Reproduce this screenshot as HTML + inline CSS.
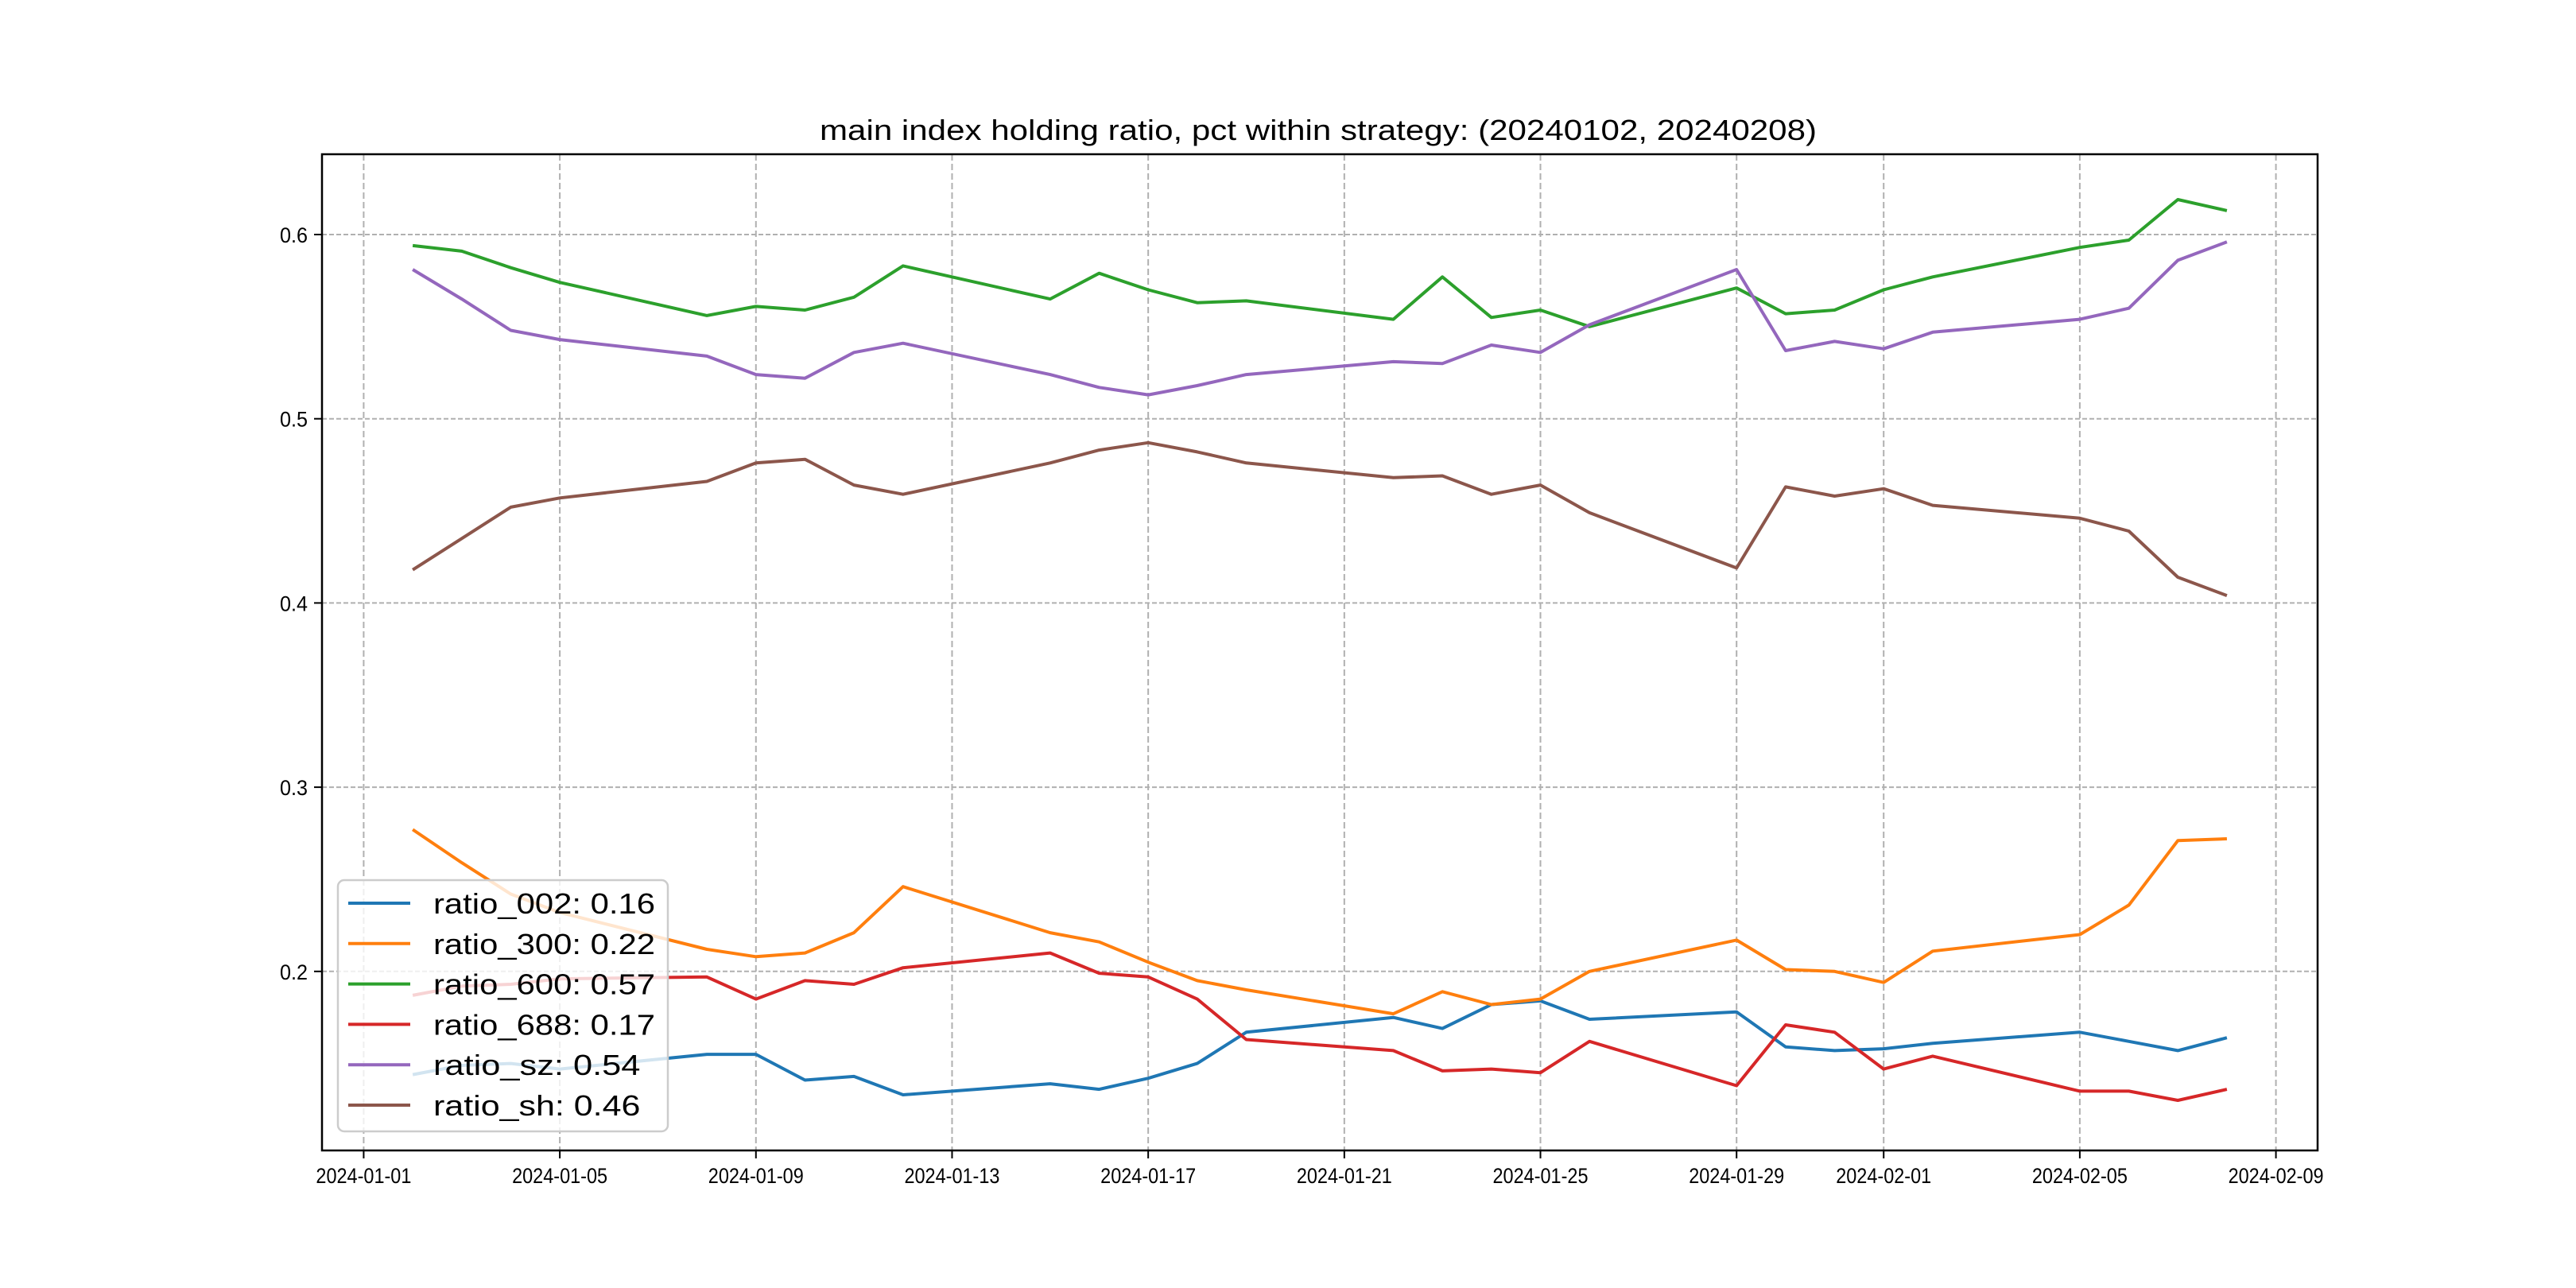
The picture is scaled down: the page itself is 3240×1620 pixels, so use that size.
<!DOCTYPE html>
<html><head><meta charset="utf-8"><style>
html,body{margin:0;padding:0;background:#fff;}
svg{display:block;}
text{font-family:"Liberation Sans","WenQuanYi Zen Hei",sans-serif;fill:#000;}
</style></head><body>
<svg id="chart" width="3240" height="1620" viewBox="0 0 3240 1620" xmlns="http://www.w3.org/2000/svg">
<rect width="3240" height="1620" fill="#fff"/>
<g id="grid"></g>
<g id="series"></g>
<g id="axes"></g>
<text x="1658" y="176" font-size="36" text-anchor="middle" textLength="1254" lengthAdjust="spacingAndGlyphs">main index holding ratio, pct within strategy: (20240102, 20240208)</text>
<g id="legend"></g>
</svg>
<script>
const dates = ["2024-01-02","2024-01-03","2024-01-04","2024-01-05","2024-01-08","2024-01-09","2024-01-10","2024-01-11","2024-01-12","2024-01-15","2024-01-16","2024-01-17","2024-01-18","2024-01-19","2024-01-22","2024-01-23","2024-01-24","2024-01-25","2024-01-26","2024-01-29","2024-01-30","2024-01-31","2024-02-01","2024-02-02","2024-02-05","2024-02-06","2024-02-07","2024-02-08"];
const ratio002 = [0.144,0.149,0.150,0.147,0.155,0.155,0.141,0.143,0.133,0.139,0.136,0.142,0.150,0.167,0.175,0.169,0.182,0.184,0.174,0.178,0.159,0.157,0.158,0.161,0.167,0.162,0.157,0.164];
const ratio300 = [0.277,0.259,0.242,0.232,0.212,0.208,0.210,0.221,0.246,0.221,0.216,0.205,0.195,0.190,0.177,0.189,0.182,0.185,0.200,0.217,0.201,0.200,0.194,0.211,0.220,0.236,0.271,0.272];
const ratio600 = [0.594,0.591,0.582,0.574,0.556,0.561,0.559,0.566,0.583,0.565,0.579,0.570,0.563,0.564,0.554,0.577,0.555,0.559,0.550,0.571,0.557,0.559,0.570,0.577,0.593,0.597,0.619,0.613];
const ratio688 = [0.187,0.192,0.193,0.196,0.197,0.185,0.195,0.193,0.202,0.210,0.199,0.197,0.185,0.163,0.157,0.146,0.147,0.145,0.162,0.138,0.171,0.167,0.147,0.154,0.135,0.135,0.130,0.136];
const ratioSz = [0.581,0.565,0.548,0.543,0.534,0.524,0.522,0.536,0.541,0.524,0.517,0.513,0.518,0.524,0.531,0.530,0.540,0.536,0.551,0.581,0.537,0.542,0.538,0.547,0.554,0.560,0.586,0.596];
const ratioSh = [0.418,0.435,0.452,0.457,0.466,0.476,0.478,0.464,0.459,0.476,0.483,0.487,0.482,0.476,0.468,0.469,0.459,0.464,0.449,0.419,0.463,0.458,0.462,0.453,0.446,0.439,0.414,0.404];
const legendLabels = ["ratio_002: 0.16","ratio_300: 0.22","ratio_600: 0.57","ratio_688: 0.17","ratio_sz: 0.54","ratio_sh: 0.46"];
const yTicks = [0.2,0.3,0.4,0.5,0.6];
const yTickLabels = ["0.2","0.3","0.4","0.5","0.6"];
const xTickDates = ["2024-01-01","2024-01-05","2024-01-09","2024-01-13","2024-01-17","2024-01-21","2024-01-25","2024-01-29","2024-02-01","2024-02-05","2024-02-09"];

const NS="http://www.w3.org/2000/svg";
const L=405,R=2915,T=194,B=1447;
const day0=Date.UTC(2024,0,1);
function dayOf(s){const p=s.split('-');return (Date.UTC(+p[0],+p[1]-1,+p[2])-day0)/86400000;}
const d1=dayOf(dates[0]),d2=dayOf(dates[dates.length-1]);
const pad=(d2-d1)*0.05;
const xmin=d1-pad,xmax=d2+pad;
function xs(s){return L+(dayOf(s)-xmin)/(xmax-xmin)*(R-L);}
const Y06=295,PER=2317;
function ys(v){return Y06+(0.6-v)*PER;}
function mk(tag,attrs,parent){const e=document.createElementNS(NS,tag);for(const k in attrs)e.setAttribute(k,attrs[k]);parent.appendChild(e);return e;}

const grid=document.getElementById('grid');
const axes=document.getElementById('axes');
xTickDates.forEach(d=>{
  const x=xs(d);
  const g=mk('line',{x1:x,x2:x,y1:T,y2:B,stroke:'#b0b0b0','stroke-width':2,'stroke-dasharray':'8,4'},grid);
  
  
  const t=mk('line',{x1:x,x2:x,y1:B,y2:B+10,stroke:'#000','stroke-width':2},axes);
  
  
  const tx=mk('text',{x:x,y:1488,'font-size':27,'text-anchor':'middle',textLength:120,lengthAdjust:'spacingAndGlyphs'},axes);
  tx.textContent=d;
  
  
});
yTicks.forEach((v,i)=>{
  const y=ys(v);
  const g=mk('line',{x1:L,x2:R,y1:y,y2:y,stroke:'#b0b0b0','stroke-width':2,'stroke-dasharray':'6,3'},grid);
  
  
  const t=mk('line',{x1:L-10,x2:L,y1:y,y2:y,stroke:'#000','stroke-width':2},axes);
  
  
  const tx=mk('text',{x:387,y:y+10,'font-size':27,'text-anchor':'end',textLength:35,lengthAdjust:'spacingAndGlyphs'},axes);
  tx.textContent=yTickLabels[i];
  
  
});
const frame=mk('rect',{x:L,y:T,width:R-L,height:B-T,fill:'none',stroke:'#000','stroke-width':2.5},axes);



const seriesList=[ratio002,ratio300,ratio600,ratio688,ratioSz,ratioSh];
const colors=['#1f77b4','#ff7f0e','#2ca02c','#d62728','#9467bd','#8c564b'];
const names=['series-ratio-002','series-ratio-300','series-ratio-600','series-ratio-688','series-ratio-sz','series-ratio-sh'];
const sg=document.getElementById('series');
seriesList.forEach((vals,i)=>{
  const pts=vals.map((v,j)=>xs(dates[j]).toFixed(1)+','+ys(v).toFixed(1)).join(' ');
  const p=mk('polyline',{points:pts,fill:'none',stroke:colors[i],'stroke-width':4,'stroke-linejoin':'round'},sg);
  
  
});

const lg=document.getElementById('legend');
const box=mk('rect',{x:425,y:1107,width:415,height:316,rx:8,fill:'#fff','fill-opacity':0.8,stroke:'#cccccc','stroke-width':2.5},lg);


legendLabels.forEach((lab,i)=>{
  const y=1136+i*50.8;
  const ln=mk('line',{x1:438,x2:516,y1:y,y2:y,stroke:colors[i],'stroke-width':4},lg);
  
  
  const w=lab.length*18.6;
  const tx=mk('text',{x:545,y:y+13,'font-size':36,textLength:w,lengthAdjust:'spacingAndGlyphs'},lg);
  tx.textContent=lab;
  
  
});
</script>
</body></html>
